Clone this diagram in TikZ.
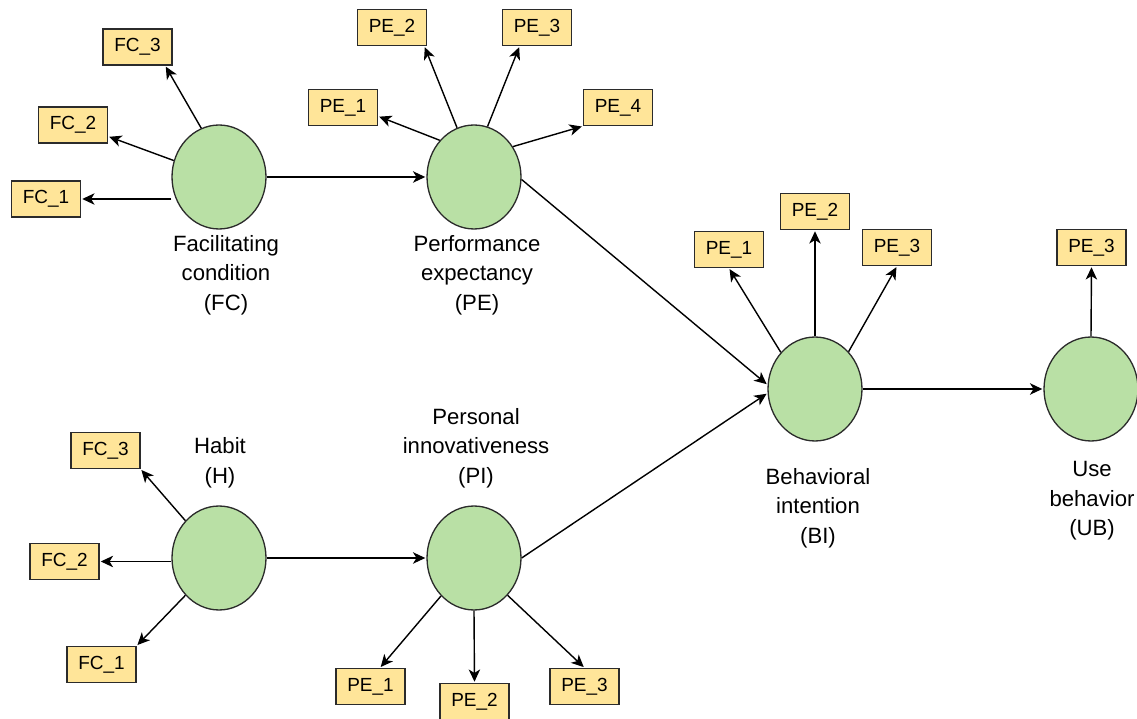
\documentclass[tikz,border=0pt]{standalone}
\usepackage{fontspec}
\setmainfont{Liberation Sans}
\usetikzlibrary{arrows.meta,shapes.geometric}
\definecolor{latentgreen}{HTML}{B9E0A5}
\definecolor{indyellow}{HTML}{FFE599}
\definecolor{edgegray}{HTML}{2B2B2B}
\tikzset{
  latent/.style={ellipse,draw=edgegray,line width=0.75pt,fill=latentgreen,
    minimum width=1.88cm,minimum height=2.08cm,inner sep=0pt},
  indic/.style={rectangle,draw=edgegray,line width=0.8pt,fill=indyellow,
    minimum width=1.38cm,minimum height=0.72cm,inner sep=0pt,
    font=\fontsize{10.8}{12}\selectfont},
  lbl/.style={align=center,font=\fontsize{12.6}{16.8}\selectfont},
  load/.style={-{Stealth[length=7pt,width=6.5pt,inset=2pt]},line width=0.8pt,
    draw=black,shorten >=0.6pt}
}
\begin{document}
\begin{tikzpicture}[x=0.02cm,y=-0.02cm]
    \useasboundingbox (0,0) rectangle (1137,719);
    % constructs
    \node[latent] (fc) at (219,177) {};
    \node[latent] (pe) at (474,177) {};
    \node[latent] (bi) at (815,389) {};
    \node[latent] (ub) at (1091,389) {};
    \node[latent] (h)  at (219,558) {};
    \node[latent] (pi) at (474,558) {};
    \node[lbl] (fclbl) at (226,275) {Facilitating\\condition\\(FC)};
    \node[lbl] (pelbl) at (477,275) {Performance\\expectancy\\(PE)};
    \node[lbl] (bilbl) at (818,508) {Behavioral\\intention\\(BI)};
    \node[lbl] (ublbl) at (1092,501) {Use\\behavior\\(UB)};
    \node[lbl] (hlbl)  at (220,463) {Habit\\(H)};
    \node[lbl] (pilbl) at (476,448) {Personal\\innovativeness\\(PI)};
    % indicators
    \node[indic] (fcone)   at (46,199)    {FC\_1};
    \node[indic] (fctwo)   at (73,125)    {FC\_2};
    \node[indic] (fcthree) at (137.5,47)  {FC\_3};
    \node[indic] (peone)   at (343,107.5) {PE\_1};
    \node[indic] (petwo)   at (392,27.5)  {PE\_2};
    \node[indic] (pethree) at (537,27.5)  {PE\_3};
    \node[indic] (pefour)  at (618,107.5) {PE\_4};
    \node[indic] (bione)   at (729,249.5) {PE\_1};
    \node[indic] (bitwo)   at (815,211.5) {PE\_2};
    \node[indic] (bithree) at (897,247.5) {PE\_3};
    \node[indic] (ubone)   at (1091.5,247.5) {PE\_3};
    \node[indic] (hthree)  at (105.5,450.5) {FC\_3};
    \node[indic] (htwo)    at (64.5,561.5) {FC\_2};
    \node[indic] (hone)    at (101.5,664.5) {FC\_1};
    \node[indic] (pione)   at (370.5,686.5) {PE\_1};
    \node[indic] (pitwo)   at (474.5,701.5) {PE\_2};
    \node[indic] (pithree) at (584.5,686.5) {PE\_3};
    % loadings
    \draw[load] (fc.west |- fcone.east) -- (fcone.east);
    \draw[load] (fc.160) -- (fctwo.-18);
    \draw[load] (fc.110) -- (fcthree.-34);
    \draw[load] (pe.133) -- (peone.-14);
    \draw[load] (pe.109) -- (petwo.-30);
    \draw[load] (pe.75) -- (pethree.-133);
    \draw[load] (pe.38) -- (pefour.south west);
    \draw[load] (bi.133) -- (bione.south);
    \draw[load] (bi.north) -- (bitwo.south);
    \draw[load] (bi.48) -- (bithree.south);
    \draw[load] (ub.north) -- (ubone.south);
    \draw[load] (h.132) -- (hthree.south east);
    \draw[load] (h.west |- htwo.east) -- (htwo.east);
    \draw[load] (h.228) -- (hone.north east);
    \draw[load] (pi.229) -- (pione.63);
    \draw[load] (pi.south) -- (pitwo.north);
    \draw[load] (pi.-48) -- (pithree.north);
    % paths
    \draw[load] (fc.east) -- (pe.west);
    \draw[load] (h.east) -- (pi.west);
    \draw[load] (pe.-3) -- (bi.175);
    \draw[load] (pi.east) -- (bi.185);
    \draw[load] (bi.east) -- (ub.west);
\end{tikzpicture}
\end{document}
